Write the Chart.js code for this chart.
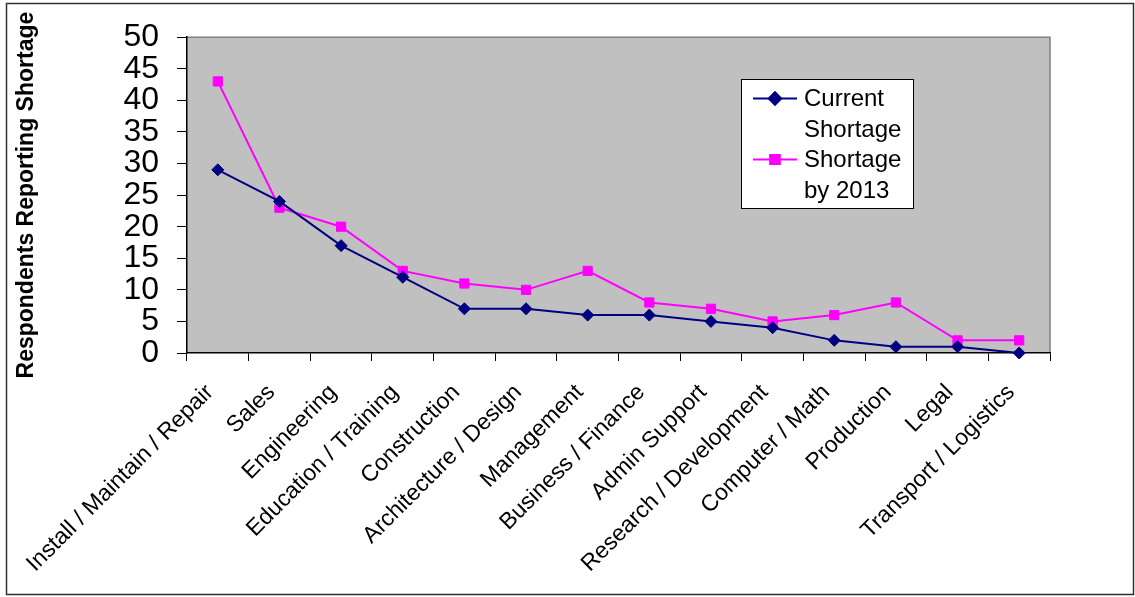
<!DOCTYPE html>
<html>
<head>
<meta charset="utf-8">
<title>Respondents Reporting Shortage</title>
<script src="https://cdn.jsdelivr.net/npm/chart.js@4.4.1/dist/chart.umd.min.js"></script>
<style>
  html, body { margin: 0; padding: 0; background: #ffffff; }
  canvas { display: block; }
</style>
</head>
<body>
<canvas id="chart" width="1135" height="597"></canvas>
<script>
// Occupation categories along the x axis
const occupations = [
  'Install / Maintain / Repair', 'Sales', 'Engineering', 'Education / Training',
  'Construction', 'Architecture / Design', 'Management', 'Business / Finance',
  'Admin Support', 'Research / Development', 'Computer / Math', 'Production',
  'Legal', 'Transport / Logistics'
];

// Number of respondents reporting a shortage, per occupation
const currentShortage = [29, 24, 17, 12, 7, 7, 6, 6, 5, 4, 2, 1, 1, 0];
const shortageBy2013  = [43, 23, 20, 13, 11, 10, 13, 8, 7, 5, 6, 8, 2, 2];

const seriesNames = ['Current Shortage', 'Shortage by 2013'];
const yAxisTitle = 'Respondents Reporting Shortage';
const yMin = 0, yMax = 50, yStep = 5;

const FONT = "'Liberation Sans', Arial, Helvetica, sans-serif";
Chart.defaults.font.family = FONT;
Chart.defaults.color = '#000000';

// Grey plot background, grey top/right frame and the outer chart border
const plotFrame = {
  id: 'plotFrame',
  beforeDraw(chart) {
    const { ctx, chartArea: a } = chart;
    ctx.save();
    ctx.fillStyle = '#ffffff';
    ctx.fillRect(0, 0, chart.width, chart.height);
    ctx.strokeStyle = '#303030';
    ctx.lineWidth = 1.5;
    ctx.strokeRect(6.5, 3.5, chart.width - 8, chart.height - 6);
    ctx.fillStyle = '#C0C0C0';
    ctx.fillRect(a.left, a.top, a.right - a.left, a.bottom - a.top);
    ctx.strokeStyle = '#808080';
    ctx.lineWidth = 1.5;
    ctx.beginPath();
    ctx.moveTo(a.left, a.top);
    ctx.lineTo(a.right, a.top);
    ctx.lineTo(a.right, a.bottom);
    ctx.stroke();
    ctx.restore();
  }
};

// Boxed legend inside the plot, each series name wrapped onto two lines
const boxLegend = {
  id: 'boxLegend',
  afterDraw(chart) {
    const { ctx } = chart;
    const box = { x: 741.5, y: 79.5, w: 172, h: 129 };
    const lineGap = 30.5;
    ctx.save();
    ctx.fillStyle = '#ffffff';
    ctx.fillRect(box.x, box.y, box.w, box.h);
    ctx.strokeStyle = '#000000';
    ctx.lineWidth = 1;
    ctx.strokeRect(box.x, box.y, box.w, box.h);
    ctx.font = '24px ' + FONT;
    ctx.textBaseline = 'middle';
    ctx.textAlign = 'left';
    chart.data.datasets.forEach((ds, i) => {
      const yRow = 98.5 + i * 2 * lineGap;
      ctx.strokeStyle = ds.borderColor;
      ctx.lineWidth = 2;
      ctx.beginPath();
      ctx.moveTo(753, yRow);
      ctx.lineTo(797, yRow);
      ctx.stroke();
      Chart.helpers.drawPoint(ctx, {
        pointStyle: ds.pointStyle, radius: ds.pointRadius, borderWidth: 1
      }, 775, yRow);
      ctx.fillStyle = ds.pointBackgroundColor;
      ctx.strokeStyle = ds.pointBorderColor;
      ctx.fill();
      ctx.stroke();
      const words = ds.label.split(' ');
      const first = words.shift();
      ctx.fillStyle = '#000000';
      ctx.fillText(first, 804, yRow + 1);
      ctx.fillText(words.join(' '), 804, yRow + lineGap + 1);
    });
    ctx.restore();
  }
};

new Chart(document.getElementById('chart'), {
  type: 'line',
  data: {
    labels: occupations,
    datasets: [
      {
        label: seriesNames[0],
        data: currentShortage,
        borderColor: '#000080',
        backgroundColor: '#000080',
        pointBackgroundColor: '#000080',
        pointBorderColor: '#000080',
        pointStyle: 'rectRot',
        pointRadius: 6,
        pointBorderWidth: 1,
        borderWidth: 2,
        tension: 0,
        clip: false
      },
      {
        label: seriesNames[1],
        data: shortageBy2013,
        borderColor: '#FF00FF',
        backgroundColor: '#FF00FF',
        pointBackgroundColor: '#FF00FF',
        pointBorderColor: '#FF00FF',
        pointStyle: 'rect',
        pointRadius: 6.5,
        pointBorderWidth: 1,
        borderWidth: 2,
        tension: 0,
        clip: false
      }
    ]
  },
  options: {
    responsive: false,
    animation: false,
    devicePixelRatio: 1,
    layout: { padding: { left: 8, top: 36, right: 85, bottom: 4 } },
    plugins: {
      legend: { display: false },
      tooltip: { enabled: false }
    },
    scales: {
      x: {
        offset: true,
        grid: { offset: true, drawOnChartArea: false, drawTicks: true, tickLength: 8, color: '#000000' },
        border: { color: '#000000', width: 1.5 },
        ticks: {
          autoSkip: false,
          maxRotation: 45,
          minRotation: 45,
          padding: 18,
          labelOffset: -8,
          color: '#000000',
          font: { size: 23 }
        },
        afterFit(scale) { scale.height = 240; }
      },
      y: {
        min: yMin,
        max: yMax,
        grid: { drawOnChartArea: false, drawTicks: true, tickLength: 10, color: '#000000' },
        border: { color: '#000000', width: 1.5 },
        ticks: {
          stepSize: yStep,
          autoSkip: false,
          padding: 18,
          color: '#000000',
          font: { size: 32 }
        },
        title: {
          display: true,
          text: yAxisTitle,
          color: '#000000',
          font: { size: 23, weight: 'bold' },
          padding: { top: 5, bottom: 0 }
        },
        afterFit(scale) { scale.width = 179; }
      }
    }
  },
  plugins: [plotFrame, boxLegend]
});
</script>
</body>
</html>
